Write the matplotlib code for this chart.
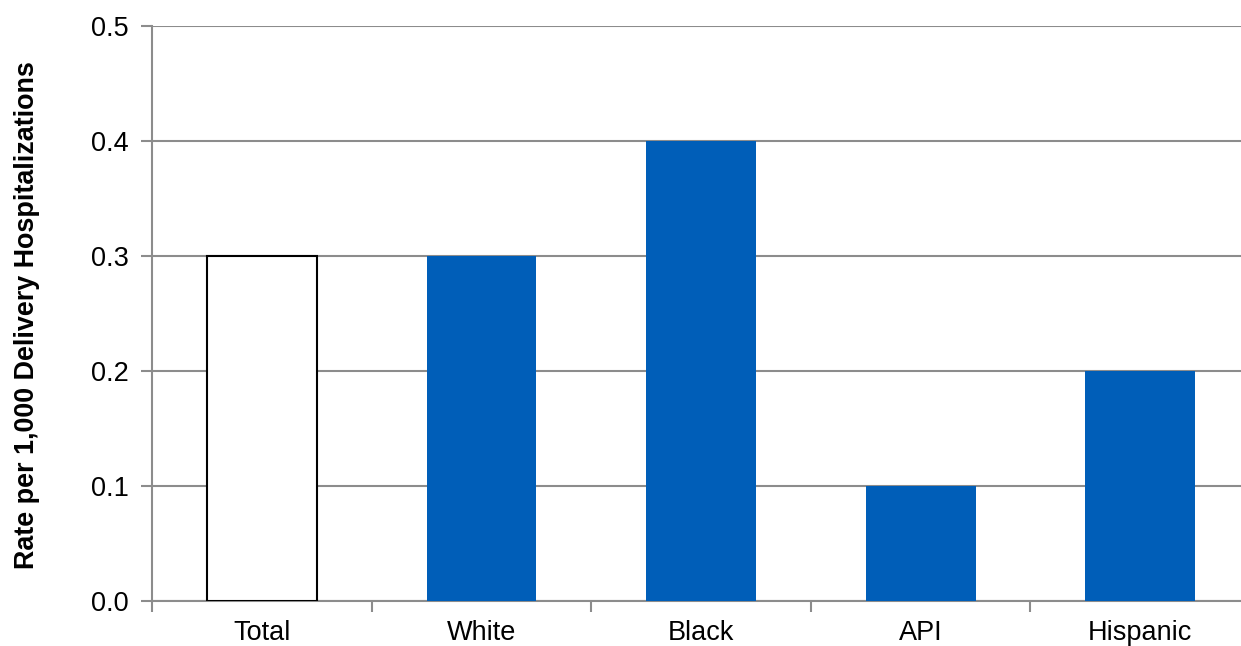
import numpy as np
import matplotlib.pyplot as plt

plt.rcParams['font.family'] = ['Liberation Sans', 'DejaVu Sans']

categories = ['Total', 'White', 'Black', 'API', 'Hispanic']
rates = [0.3, 0.3, 0.4, 0.1, 0.2]
y_ticks = [0.0, 0.1, 0.2, 0.3, 0.4, 0.5]

fig = plt.figure(figsize=(12.41, 6.46), dpi=100)
ax = fig.add_axes([152 / 1241, 1 - 601 / 646, (1250 - 152) / 1241, (601 - 26) / 646])

x = np.arange(len(categories))
face = ['white'] + ['#005EB8'] * 4
edge = ['black'] + ['#005EB8'] * 4
ax.bar(x, rates, width=0.5, color=face, edgecolor=edge, linewidth=[1.5, 0, 0, 0, 0], zorder=3)

ax.set_xlim(-0.5, len(categories) - 0.5)
ax.set_ylim(0, 0.5)
ax.set_yticks(y_ticks)
ax.set_yticklabels([f'{v:.1f}' for v in y_ticks])
ax.yaxis.grid(True, color='#8c8c8c', linewidth=1.5, zorder=0)

# category labels sit between the boundary ticks
ax.set_xticks(x)
ax.set_xticklabels(categories)
ax.set_xticks(np.arange(-0.5, len(categories) - 0.5, 1.0), minor=True)
ax.tick_params(axis='x', which='major', length=0, pad=14, labelsize=19.5)
ax.tick_params(axis='x', which='minor', length=8, width=1.5, color='#8c8c8c', direction='out')
ax.tick_params(axis='y', length=8, width=1.5, color='#8c8c8c', direction='out', pad=9, labelsize=19.5)

for side in ['top', 'right']:
    ax.spines[side].set_visible(False)
for side in ['left', 'bottom']:
    ax.spines[side].set_color('#8c8c8c')
    ax.spines[side].set_linewidth(1.5)

fig.text(27 / 1241, 1 - 315 / 646, 'Rate per 1,000 Delivery Hospitalizations', rotation=90,
         ha='center', va='center', fontsize=19.4, fontweight='bold')

fig.savefig('out.png', dpi=100)
